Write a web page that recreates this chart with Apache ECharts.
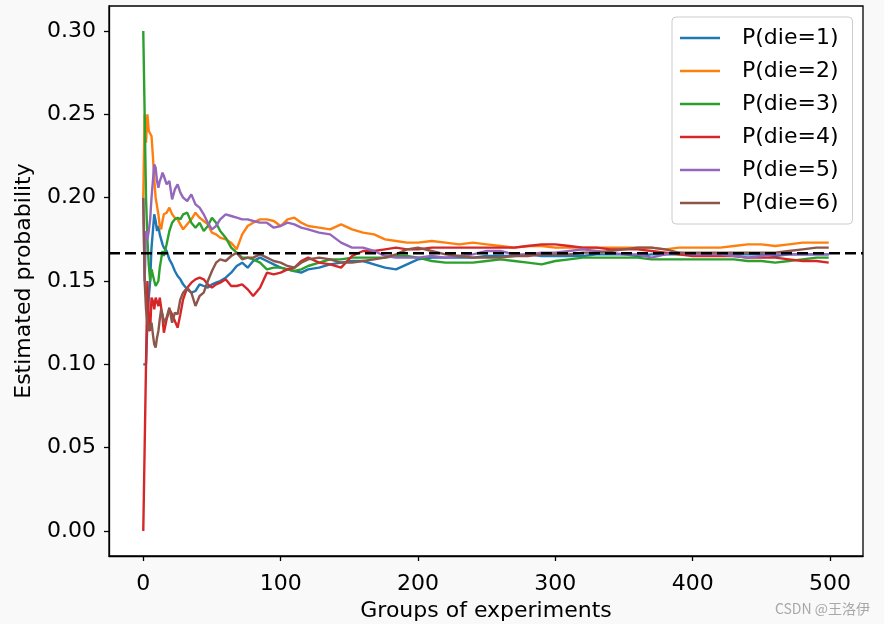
<!DOCTYPE html>
<html>
<head>
<meta charset="utf-8">
<script src="https://cdn.jsdelivr.net/npm/echarts@6/dist/echarts.min.js"></script>
<style>
html,body{margin:0;padding:0;background:#f9f9f9;}
#chart{width:884px;height:624px;}
</style>
</head>
<body>
<div id="chart"></div>
<script>
// x positions (groups of experiments) at which values were read
const groups = [0,1,2,3,4,5,6,7,8,9,10,11,12,13,14,15,17,19,21,23,25,27,29,32,35,38,41,44,47,50,53,56,60,64,68,72,76,80,85,90,95,100,105,110,115,120,128,136,144,152,160,168,176,184,192,200,210,220,230,240,250,260,270,280,290,300,310,320,330,340,350,360,370,380,390,400,410,420,430,440,450,460,470,480,490,499];

const p1 = [0.10,0.10,0.10,0.125,0.14,0.15,0.17,0.18,0.19,0.186,0.18,0.183,0.178,0.175,0.172,0.17,0.168,0.163,0.16,0.156,0.153,0.151,0.148,0.145,0.143,0.144,0.148,0.147,0.146,0.148,0.149,0.15,0.152,0.155,0.159,0.161,0.158,0.162,0.164,0.162,0.16,0.158,0.157,0.156,0.155,0.157,0.158,0.160,0.161,0.162,0.162,0.160,0.158,0.157,0.160,0.163,0.164,0.164,0.164,0.164,0.165,0.165,0.165,0.166,0.165,0.165,0.165,0.165,0.166,0.166,0.166,0.165,0.166,0.166,0.166,0.166,0.166,0.166,0.166,0.166,0.166,0.165,0.166,0.166,0.166,0.166];
const p2 = [0.20,0.25,0.233,0.25,0.24,0.239,0.237,0.225,0.211,0.20,0.199,0.19,0.183,0.181,0.186,0.19,0.191,0.194,0.19,0.188,0.187,0.184,0.181,0.184,0.187,0.191,0.188,0.186,0.184,0.179,0.178,0.176,0.175,0.173,0.169,0.178,0.183,0.185,0.187,0.187,0.186,0.183,0.187,0.188,0.185,0.183,0.182,0.181,0.184,0.181,0.179,0.178,0.175,0.174,0.173,0.173,0.174,0.173,0.172,0.173,0.172,0.171,0.170,0.171,0.171,0.170,0.170,0.170,0.170,0.170,0.170,0.170,0.170,0.169,0.170,0.170,0.170,0.170,0.171,0.172,0.172,0.171,0.172,0.173,0.173,0.173];
const p3 = [0.30,0.25,0.20,0.175,0.16,0.15,0.157,0.158,0.15,0.147,0.146,0.15,0.158,0.163,0.168,0.165,0.172,0.18,0.185,0.187,0.188,0.187,0.190,0.191,0.185,0.182,0.185,0.180,0.183,0.188,0.185,0.180,0.176,0.170,0.167,0.164,0.164,0.163,0.161,0.157,0.158,0.158,0.157,0.156,0.157,0.159,0.161,0.163,0.163,0.164,0.164,0.164,0.164,0.165,0.165,0.164,0.162,0.161,0.161,0.161,0.162,0.163,0.162,0.161,0.160,0.162,0.163,0.164,0.164,0.164,0.164,0.164,0.163,0.163,0.163,0.163,0.163,0.163,0.163,0.162,0.162,0.161,0.162,0.163,0.164,0.164];
const p4 = [0.0,0.05,0.10,0.15,0.125,0.12,0.14,0.138,0.133,0.14,0.139,0.135,0.14,0.14,0.128,0.119,0.127,0.133,0.13,0.126,0.122,0.13,0.139,0.146,0.149,0.151,0.152,0.151,0.148,0.146,0.148,0.149,0.151,0.147,0.147,0.148,0.145,0.141,0.146,0.155,0.154,0.155,0.157,0.158,0.162,0.164,0.161,0.160,0.158,0.165,0.168,0.168,0.169,0.170,0.169,0.169,0.170,0.170,0.170,0.170,0.170,0.170,0.170,0.171,0.172,0.172,0.171,0.170,0.170,0.169,0.169,0.169,0.168,0.167,0.166,0.165,0.165,0.165,0.165,0.164,0.164,0.164,0.163,0.162,0.162,0.161];
const p5 = [0.20,0.15,0.18,0.175,0.18,0.187,0.20,0.21,0.22,0.218,0.21,0.206,0.21,0.212,0.215,0.213,0.208,0.21,0.199,0.205,0.208,0.203,0.200,0.198,0.202,0.196,0.194,0.190,0.185,0.181,0.183,0.187,0.190,0.189,0.188,0.187,0.187,0.186,0.185,0.185,0.182,0.183,0.185,0.184,0.182,0.181,0.179,0.178,0.173,0.170,0.170,0.168,0.165,0.164,0.164,0.164,0.165,0.164,0.165,0.166,0.168,0.168,0.166,0.166,0.167,0.167,0.168,0.169,0.168,0.167,0.166,0.166,0.164,0.166,0.167,0.166,0.166,0.166,0.165,0.164,0.165,0.166,0.166,0.166,0.166,0.166];
const p6 = [0.20,0.15,0.133,0.125,0.12,0.12,0.125,0.118,0.112,0.11,0.116,0.12,0.127,0.133,0.13,0.125,0.128,0.134,0.125,0.131,0.13,0.139,0.143,0.146,0.143,0.135,0.141,0.143,0.150,0.156,0.161,0.163,0.162,0.165,0.167,0.163,0.164,0.164,0.166,0.164,0.162,0.161,0.159,0.158,0.161,0.163,0.164,0.163,0.161,0.161,0.162,0.163,0.164,0.166,0.169,0.170,0.168,0.166,0.165,0.164,0.164,0.164,0.165,0.165,0.166,0.166,0.166,0.167,0.167,0.168,0.169,0.170,0.170,0.169,0.167,0.167,0.167,0.167,0.167,0.167,0.167,0.167,0.168,0.169,0.170,0.170];

const seriesNames = ['P(die=1)','P(die=2)','P(die=3)','P(die=4)','P(die=5)','P(die=6)'];
const seriesValues = [p1,p2,p3,p4,p5,p6];
const colors = ['#1f77b4','#ff7f0e','#2ca02c','#d62728','#9467bd','#8c564b'];
const xTicks = [0,100,200,300,400,500];
const yTicks = [0,0.05,0.10,0.15,0.20,0.25,0.30];
const trueProb = 1/6;
const xRange = [-24.95, 523.95];
const yRange = [-0.015, 0.315];

const font = 'DejaVu Sans';
const fs = 22;
const chart = echarts.init(document.getElementById('chart'));

const series = seriesValues.map((vals, i) => ({
  name: seriesNames[i],
  type: 'line',
  data: groups.map((g, j) => [g, vals[j]]),
  showSymbol: false,
  symbol: 'none',
  lineStyle: {width: 2.4, color: colors[i]},
  itemStyle: {color: colors[i]},
  animation: false
}));
series.push({
  name: 'true',
  type: 'line',
  data: [[xRange[0], trueProb], [xRange[1], trueProb]],
  showSymbol: false,
  symbol: 'none',
  z: 5,
  silent: true,
  lineStyle: {color: '#000', type: [11, 5], width: 2.6},
  animation: false
});

chart.setOption({
  backgroundColor: '#f9f9f9',
  animation: false,
  grid: {left: 109, right: 21, top: 6, bottom: 68, show: true, backgroundColor: '#ffffff', borderColor: '#000', borderWidth: 1.3, containLabel: false, outerBoundsMode: 'none'},
  legend: {
    data: seriesNames,
    orient: 'vertical',
    left: 672, top: 17,
    icon: 'path://M0,0 L40,0 L40,2.6 L0,2.6 Z',
    itemWidth: 40, itemHeight: 14, itemGap: 11,
    padding: [10, 14, 10, 8],
    backgroundColor: 'rgba(255,255,255,0.85)',
    borderColor: '#cccccc', borderWidth: 1, borderRadius: 4,
    textStyle: {fontFamily: font, fontSize: fs, color: '#000', padding: [0, 0, 0, 17]}
  },
  xAxis: {
    type: 'value', min: xRange[0], max: xRange[1],
    name: 'Groups of experiments', nameLocation: 'middle', nameGap: 44,
    nameTextStyle: {fontFamily: font, fontSize: fs, color: '#000'},
    splitLine: {show: false},
    axisLine: {show: true, onZero: false, lineStyle: {color: '#000', width: 1.3}},
    axisTick: {show: true, length: 5, lineStyle: {color: '#000', width: 1.3}, customValues: xTicks},
    axisLabel: {fontFamily: font, fontSize: fs, color: '#000', margin: 17, customValues: xTicks}
  },
  yAxis: {
    type: 'value', min: yRange[0], max: yRange[1],
    name: 'Estimated probability', nameLocation: 'middle', nameGap: 74,
    nameTextStyle: {fontFamily: font, fontSize: fs, color: '#000'},
    splitLine: {show: false},
    axisLine: {show: true, onZero: false, lineStyle: {color: '#000', width: 1.3}},
    axisTick: {show: true, length: 5, lineStyle: {color: '#000', width: 1.3}, customValues: yTicks},
    axisLabel: {fontFamily: font, fontSize: fs, color: '#000', margin: 13, customValues: yTicks, formatter: v => v.toFixed(2)}
  },
  graphic: [{
    type: 'text', right: 14, bottom: 8,
    style: {text: 'CSDN @王洛伊', font: '14px "Noto Sans CJK SC"', fill: '#a8a8a8'}
  }],
  series: series
});
</script>
</body>
</html>
